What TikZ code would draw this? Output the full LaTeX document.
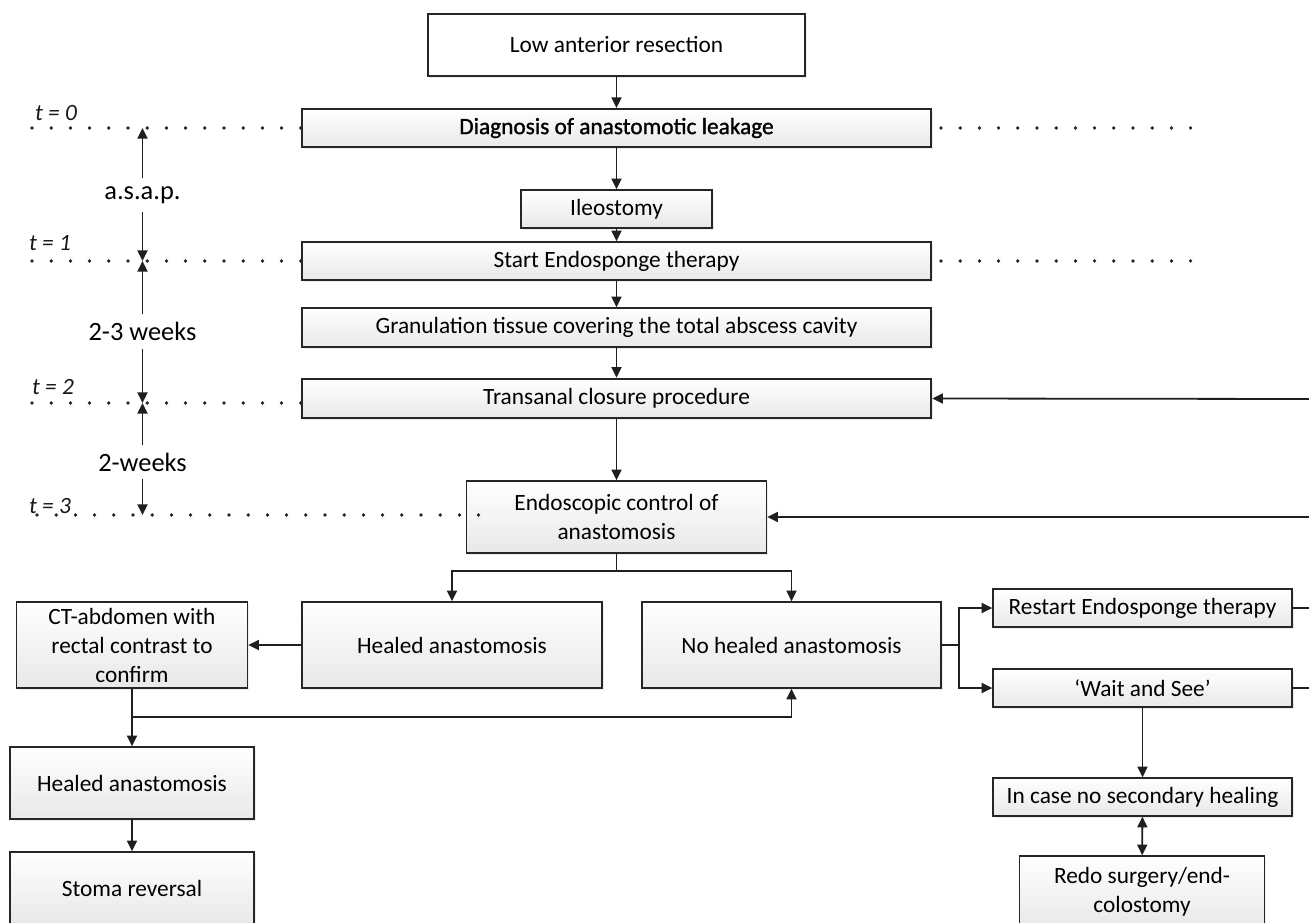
\documentclass[tikz,border=0pt]{standalone}
\usepackage{fontspec}
\setmainfont{Carlito}
\newfontfamily\fbfont[FakeBold=1.2]{Carlito}
\usetikzlibrary{arrows.meta,shadows}
\begin{document}
\begin{tikzpicture}[x=0.75pt,y=-0.75pt,
  box/.style={draw=black!85, line width=1pt, top color=white, bottom color=black!9,
    drop shadow={shadow xshift=1.3pt, shadow yshift=-1.3pt, fill=black!14},
    align=center, inner sep=0pt, text=black,
    font=\fontsize{17.5}{21.75}\selectfont},
  bx/.style 2 args={minimum width=#1*0.75pt, minimum height=#2*0.75pt},
  line/.style={line width=1.35pt, draw=black!88},
  arr/.style={line, -{Triangle[length=8pt,width=7.5pt]}},
  arrb/.style={line, {Triangle[length=8pt,width=7.5pt]}-{Triangle[length=8pt,width=7.5pt]}},
  dots/.style={line width=2.8pt, draw=black!85, dash pattern=on 0pt off 14.4pt, line cap=round},
  tlab/.style={inner sep=0pt, text=black!90, font=\fontsize{17.5}{21}\selectfont\itshape},
  lab/.style={inner sep=0pt, minimum height=25.5pt, text=black, font=\fontsize{19.8}{24}\selectfont}]

\fill[white] (0,0) rectangle (1309,923);
\useasboundingbox (0,0) rectangle (1309,923);

% main column
\node[box, bx={377}{62}, line width=1.2pt, bottom color=white] (low) at (616.5,45) {Low anterior resection};
\node[box, bx={629}{38}, line width=1.5pt] (diag) at (616.5,128) {\fbfont Diagnosis of anastomotic leakage};
\node[box, bx={191}{38}] (ileo) at (616.5,209) {Ileostomy};
\node[box, bx={629}{38}] (start) at (616.5,261) {Start Endosponge therapy};
\node[box, bx={629}{39}] (gran) at (616.5,327.5) {Granulation tissue covering the total abscess cavity};
\node[box, bx={629}{39}, line width=1.9pt] (trans) at (616.5,398.5) {Transanal closure procedure};
\node[box, bx={300}{72}] (endo) at (616.5,517) {Endoscopic control of\\anastomosis};
\node[box, bx={300}{86}] (healed) at (452,645) {Healed anastomosis};
\node[box, bx={299}{86}] (nohealed) at (791.5,645) {No healed anastomosis};
\node[box, bx={231}{86}] (ct) at (132,645) {CT-abdomen with\\rectal contrast to\\confirm};
\node[box, bx={244}{72}] (healed2) at (132,783) {Healed anastomosis};
\node[box, bx={244}{72}] (stoma) at (132,888) {Stoma reversal};
\node[box, bx={299}{38}] (restart) at (1142.5,608) {Restart Endosponge therapy};
\node[box, bx={299}{38}] (wait) at (1142.5,688) {‘Wait and See’};
\node[box, bx={299}{38}] (incase) at (1142.5,797) {In case no secondary healing};
\node[box, bx={245}{72}] (redo) at (1142,892) {Redo surgery/end-\\colostomy};

% main arrows
\draw[arr] (low) -- (diag);
\draw[arr] (diag) -- (ileo);
\draw[arr] (ileo) -- (start);
\draw[arr] (start) -- (gran);
\draw[arr] (gran) -- (trans);
\draw[arr] (trans) -- (endo);

\coordinate (eb) at (616.5,571);
\draw[line] (endo.south) -- (eb);
\draw[arr] (eb) -| (healed.north);
\draw[arr] (eb) -| (nohealed.north);
\draw[arr] (healed.west) -- (ct.east);

\coordinate (cb) at (132,717);
\draw[line] (ct.south) -- (cb);
\draw[arr] (cb) -- (healed2.north);
\draw[arr] (cb) -| (nohealed.south);
\draw[arr] (healed2) -- (stoma);

\coordinate (nb) at (959,645);
\draw[line] (nohealed.east) -- (nb);
\draw[arr] (nb) |- (restart.west);
\draw[arr] (nb) |- (wait.west);
\coordinate (rr) at (1312,608);
\draw[line] (restart.east) -- (rr);
\coordinate (wr) at (1312,688);
\draw[line] (wait.east) -- (wr);
\coordinate (tr) at (1312,399);
\draw[arr] (tr) -- (trans.east);
\coordinate (er) at (1312,517);
\draw[arr] (er) -- (endo.east);
\draw[arr] (wait) -- (incase);
\draw[arrb] (incase) -- (redo);

% timeline
\node[tlab] (t0) at (56,113) {t = 0};
\node[tlab] (t1) at (50,243) {t = 1};
\node[tlab] (t2) at (53,387) {t = 2};
\node[tlab] (t3) at (50,506) {t = 3};

\coordinate (d0a) at (32,128);  \coordinate (d0b) at (941,128); \coordinate (d0c) at (1209,128);
\coordinate (d1a) at (32,261);  \coordinate (d1b) at (941,261); \coordinate (d1c) at (1209,261);
\coordinate (d2a) at (32,403);  \coordinate (d2b) at (303,403);
\coordinate (d3a) at (37,515);  \coordinate (d3b) at (479,515);
\draw[dots] (d0a) -- (diag.west);
\draw[dots] (d0b) -- (d0c);
\draw[dots] (d1a) -- (start.west);
\draw[dots] (d1b) -- (d1c);
\draw[dots] (d2a) -- (d2b);
\draw[dots] (d3a) -- (d3b);

\coordinate (m0) at (142.5,128);
\coordinate (m1) at (142.5,261);
\coordinate (m2) at (142.5,403);
\coordinate (m3) at (142.5,515);
\node[lab] (asap) at (142.5,195) {a.s.a.p.};
\node[lab] (w23) at (142.5,331.5) {2-3 weeks};
\node[lab] (w2) at (142.5,462) {2-weeks};
\draw[arr] (asap.north) -- (m0);
\draw[arr] (asap.south) -- (m1);
\draw[arr] (w23.north) -- (m1);
\draw[arr] (w23.south) -- (m2);
\draw[arr] (w2.north) -- (m2);
\draw[arr] (w2.south) -- (m3);
\end{tikzpicture}
\end{document}
